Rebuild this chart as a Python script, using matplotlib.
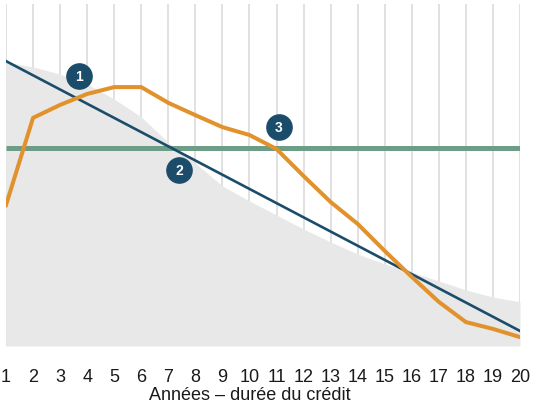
import numpy as np
import matplotlib
matplotlib.use("Agg")
import matplotlib.pyplot as plt

plt.rcParams["font.family"] = ["Liberation Sans Narrow", "Liberation Sans", "DejaVu Sans"]

# data (arbitrary units)
years = list(range(1, 21))
orange = [41.2, 66.7, 70.5, 73.7, 75.7, 75.7, 71.1, 67.5, 64.0, 61.7,
          57.6, 49.7, 42.1, 35.7, 27.8, 20.2, 12.9, 7.0, 5.0, 2.6]
grey_area = [83.0, 81.6, 79.5, 76.6, 72.2, 67.0, 59.5, 53.5, 46.8, 42.4,
             38.3, 34.2, 30.4, 26.9, 24.0, 21.6, 19.0, 16.4, 14.3, 12.9]
blue_years = [1, 20]
blue = [83.3, 4.4]
green_level = 57.9

badges = ["1", "2", "3"]
badge_x = [3.70, 7.40, 11.09]
badge_y = [79.0, 51.5, 64.0]

xlabel = "Années – durée du crédit"

W, H = 533, 410
fig = plt.figure(figsize=(W / 100, H / 100), dpi=100)
ax = fig.add_axes([6 / W, (H - 347) / H, 514 / W, 342 / H])

ax.set_xlim(1, 20)
ax.set_ylim(0, 100)

# vertical grid
for yr in years:
    ax.axvline(yr, color="#dedede", lw=1.3, zorder=0)

ax.fill_between(years, 0, grey_area, color="#e8e8e8", lw=0, zorder=1)

ax.plot([1, 20], [green_level, green_level], color="#6d9c87", lw=3.6,
        solid_capstyle="butt", zorder=2)
ax.plot(blue_years, blue, color="#1b4d6b", lw=1.9, zorder=3)
ax.plot(years, orange, color="#e2922c", lw=2.9, zorder=4,
        solid_joinstyle="round")

ax.scatter(badge_x, badge_y, s=330, color="#1b4d6b", zorder=5, clip_on=False)
for b, bx, by in zip(badges, badge_x, badge_y):
    ax.text(bx, by, b, color="white", fontsize=10, fontweight="bold",
            ha="center", va="center", zorder=6, family="Liberation Sans")

ax.set_xticks(years)
ax.set_xticklabels([str(y) for y in years], fontsize=13)
ax.tick_params(axis="x", length=0, pad=15.5, colors="#1a1a1a")
ax.set_yticks([])
for s in ax.spines.values():
    s.set_visible(False)

fig.text(250 / W, 1 - 396 / H, xlabel, ha="center", va="center",
         fontsize=13, color="#1a1a1a")

fig.savefig("out.png", dpi=100)
